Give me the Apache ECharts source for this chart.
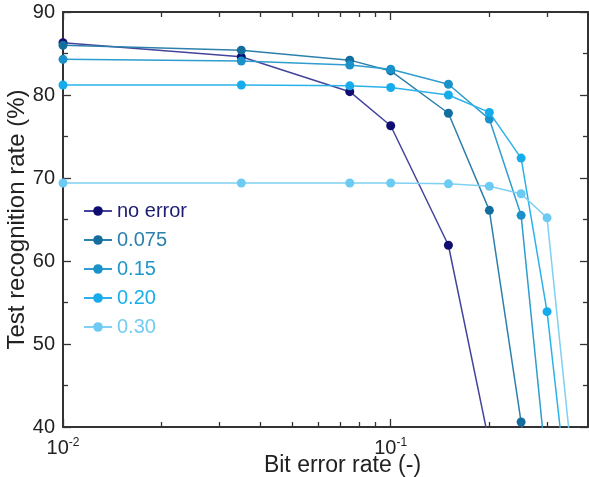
<!DOCTYPE html>
<html>
<head>
<meta charset="utf-8">
<script src="https://cdn.jsdelivr.net/npm/echarts@6/dist/echarts.min.js"></script>
<style>
  html, body { margin: 0; padding: 0; background: #fff; }
  #chart { width: 589px; height: 477px; }
</style>
</head>
<body>
<div id="chart"></div>
<script>
// bit error rates (x), shared by all curves
var bers = [0.01, 0.035, 0.075, 0.1, 0.15, 0.2, 0.25, 0.3, 0.35];
// recognition rate (%) per device error level
var noError = [86.3, 84.6, 80.4, 76.3, 61.9, 38.0];
var err075 = [86.0, 85.4, 84.2, 82.9, 77.8, 66.1, 40.6, 20.0];
var err15 = [84.3, 84.1, 83.6, 83.1, 81.3, 77.1, 65.5, 34.4];
var err20 = [81.2, 81.2, 81.1, 80.9, 80.0, 77.9, 72.4, 53.9, 30.4];
var err30 = [69.4, 69.4, 69.4, 69.4, 69.3, 69.0, 68.1, 65.2, 39.5];
var seriesNames = ['no error', '0.075', '0.15', '0.20', '0.30'];

var dotColors = ['#0f0d72', '#136e9e', '#1a92c9', '#16acec', '#6ccbf2'];
var lineColors = ['#45449c', '#2d80ac', '#2f9dcf', '#2cb2ea', '#7fd0f2'];
var textColors = ['#1e1c70', '#2a80ad', '#2196cb', '#18aee9', '#74ccf1'];

function pairs(ys) {
  var out = [];
  for (var i = 0; i < ys.length; i++) {
    out.push([bers[i], ys[i]]);
  }
  return out;
}

var chart = echarts.init(document.getElementById('chart'));
var axisFont = 'Liberation Sans, Arial, sans-serif';
var allData = [noError, err075, err15, err20, err30];

var series = [];
for (var s = 0; s < allData.length; s++) {
  series.push({
    name: seriesNames[s],
    type: 'line',
    data: pairs(allData[s]),
    symbol: 'circle',
    symbolSize: 9,
    clip: true,
    itemStyle: { color: dotColors[s] },
    lineStyle: { color: lineColors[s], width: 1.5 },
    z: 3 + s
  });
}

// log axis, used bottom (with labels) and top (frame only)
function logAxis(pos) {
  return {
    type: 'log',
    logBase: 10,
    min: 0.01,
    max: 0.4,
    position: pos,
    axisLine: { lineStyle: { color: '#333', width: 2 } },
    axisTick: { inside: true, length: 8, lineStyle: { color: '#333', width: 1.3 } },
    minorTick: { show: true, splitNumber: 9, length: 5, lineStyle: { color: '#333', width: 1.3 } },
    splitLine: { show: false },
    axisLabel: { show: false }
  };
}

var xBottom = logAxis('bottom');
xBottom.name = 'Bit error rate (-)';
xBottom.nameLocation = 'middle';
xBottom.nameGap = 27;
xBottom.nameMoveOverlap = false;
xBottom.nameTextStyle = { fontFamily: axisFont, fontSize: 23, color: '#222', padding: [0, 0, 0, 34] };
xBottom.axisLabel = {
  margin: 10,
  showMaxLabel: false,
  formatter: function (v) {
    var e = Math.log(v) / Math.LN10;
    if (Math.abs(e - Math.round(e)) > 1e-6) return '';
    return '{b|10}{e|' + Math.round(e) + '}';
  },
  rich: {
    b: { fontFamily: axisFont, fontSize: 20, color: '#222' },
    e: { fontFamily: axisFont, fontSize: 12, color: '#222', padding: [0, 0, 10, 0] }
  }
};

var option = {
  animation: false,
  backgroundColor: '#fff',
  grid: { left: 63, right: 1, top: 12, bottom: 50, containLabel: false, outerBoundsMode: 'none' },
  legend: {
    orient: 'vertical',
    left: 78,
    top: 196,
    itemWidth: 28,
    itemHeight: 12,
    itemGap: 9,
    textStyle: { fontFamily: axisFont, fontSize: 20 },
    data: seriesNames.map(function (n, i) {
      return { name: n, textStyle: { color: textColors[i] } };
    })
  },
  xAxis: [xBottom, logAxis('top')],
  yAxis: [{
    type: 'value',
    min: 40,
    max: 90,
    interval: 10,
    position: 'left',
    name: 'Test recognition rate (%)',
    nameLocation: 'middle',
    nameGap: 34,
    nameMoveOverlap: false,
    nameTextStyle: { fontFamily: axisFont, fontSize: 24, color: '#222' },
    axisLine: { show: true, lineStyle: { color: '#333', width: 2 } },
    axisTick: { show: true, inside: true, length: 8, lineStyle: { color: '#333', width: 1.3 } },
    minorTick: { show: true, splitNumber: 2, length: 5, lineStyle: { color: '#333', width: 1.3 } },
    splitLine: { show: false },
    axisLabel: { fontFamily: axisFont, fontSize: 20, color: '#222', margin: 8 }
  }, {
    type: 'value',
    min: 40,
    max: 90,
    interval: 10,
    position: 'right',
    axisLine: { show: true, lineStyle: { color: '#333', width: 2 } },
    axisTick: { show: true, inside: true, length: 8, lineStyle: { color: '#333', width: 1.3 } },
    minorTick: { show: true, splitNumber: 2, length: 5, lineStyle: { color: '#333', width: 1.3 } },
    splitLine: { show: false },
    axisLabel: { show: false }
  }],
  series: series
};

chart.setOption(option);
</script>
</body>
</html>
